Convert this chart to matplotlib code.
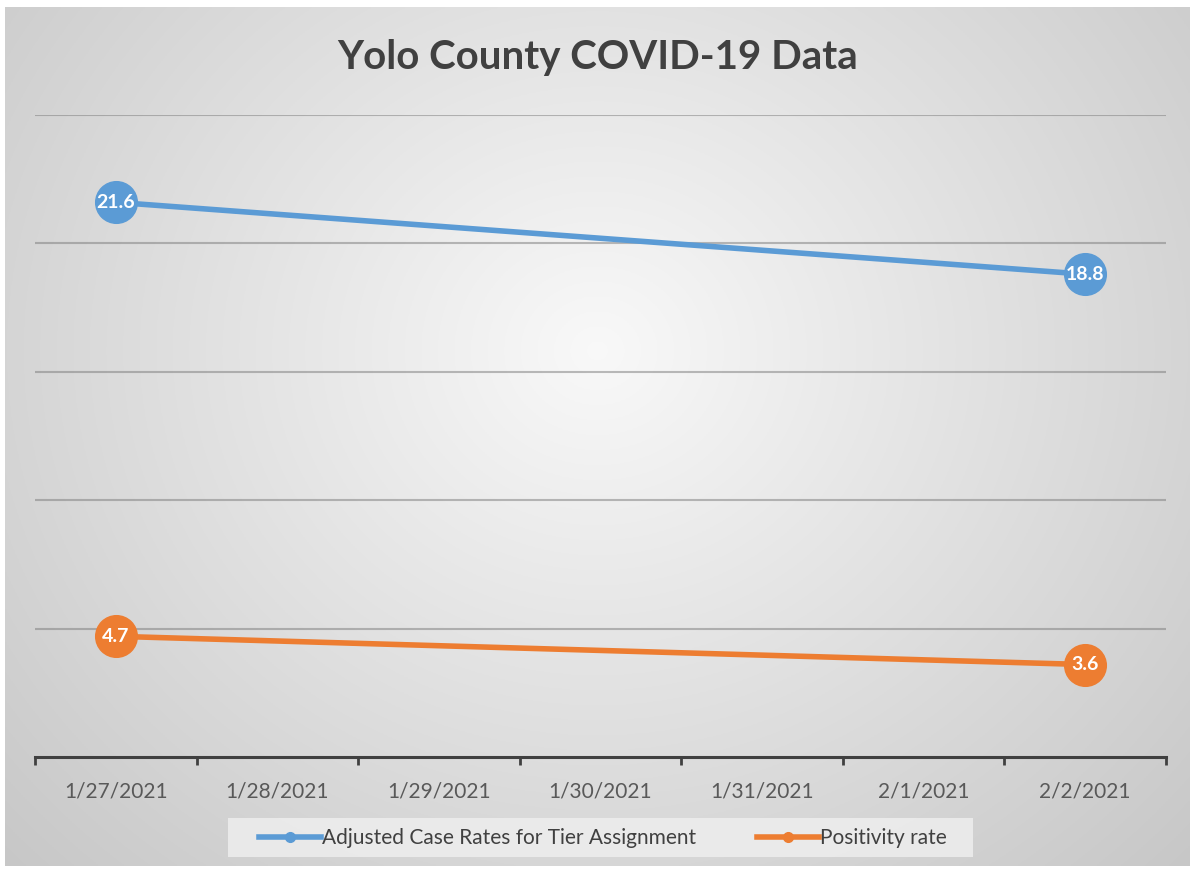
import matplotlib
matplotlib.use('Agg')
import matplotlib.pyplot as plt
import numpy as np
from matplotlib.lines import Line2D
from matplotlib.patches import Rectangle

dates = ['1/27/2021', '1/28/2021', '1/29/2021', '1/30/2021', '1/31/2021', '2/1/2021', '2/2/2021']
case_idx = [0, 6]
case_rates = [21.6, 18.8]
pos_idx = [0, 6]
pos_rates = [4.7, 3.6]
series_names = ['Adjusted Case Rates for Tier Assignment', 'Positivity rate']

blue = '#5B9BD5'
orange = '#ED7D31'

plt.rcParams['font.family'] = ['Lato', 'DejaVu Sans']

fig = plt.figure(figsize=(11.95, 8.69), dpi=100)
fig.patch.set_facecolor('white')

# radial gradient background
bg = fig.add_axes([5/1195, 3/869, 1185/1195, 859/869])
yy, xx = np.mgrid[0:1:400j, 0:1:600j]
r = np.sqrt(((xx - 0.5) * 1.0)**2 + ((yy - 0.6) * 0.8)**2)
shade = np.clip(0.975 - 0.28 * r, 0.78, 0.975)
bg.imshow(np.dstack([shade]*3), extent=[0, 1, 0, 1], origin='lower', aspect='auto')
bg.axis('off')

ax = fig.add_axes([35/1195, 1-757/869, 1131/1195, (757-115)/869])
ax.patch.set_alpha(0)

for y in [5, 10, 15, 20, 25]:
    ax.axhline(y, color='#7a7a7a', alpha=0.5, lw=1.5, zorder=1)

ax.plot(case_idx, case_rates, color=blue, lw=4, marker='o', ms=30,
        label=series_names[0], zorder=3)
ax.plot(pos_idx, pos_rates, color=orange, lw=4, marker='o', ms=30,
        label=series_names[1], zorder=3)

for xs, ys in [(case_idx, case_rates), (pos_idx, pos_rates)]:
    for x, y in zip(xs, ys):
        ax.text(x, y, f'{y}', color='white', fontsize=14, fontweight='bold',
                ha='center', va='center', zorder=4)

ax.set_xlim(-0.5, 6.5)
ax.set_ylim(0, 25)
ax.set_xticks(range(len(dates)))
ax.set_xticklabels(dates, fontsize=15, color='#595959')
ax.set_xticks(np.arange(-0.5, 7, 1), minor=True)
ax.tick_params(axis='x', which='major', length=0, pad=18)
ax.tick_params(axis='x', which='minor', length=6, width=2, color='#404040')
ax.set_yticks([])
for s in ['top', 'right', 'left']:
    ax.spines[s].set_visible(False)
ax.spines['bottom'].set_color('#404040')
ax.spines['bottom'].set_linewidth(2.2)

fig.text(0.5, 1-58/869, 'Yolo County COVID-19 Data', ha='center', va='center',
         fontsize=29, fontweight='bold', color='#404040')

# legend box
fig.patches.append(Rectangle((228/1195, 1-857/869), (973-228)/1195, 39/869,
                             transform=fig.transFigure, facecolor='#eeeeee',
                             edgecolor='none', alpha=0.85, zorder=1))
h2 = [Line2D([0], [0], color=blue, lw=4, marker='o', ms=7),
      Line2D([0], [0], color=orange, lw=4, marker='o', ms=7)]
leg = fig.legend(h2, series_names, loc='center', bbox_to_anchor=(603/1195, 1-838/869),
                 ncol=2, frameon=False, fontsize=15, handlelength=3.0,
                 handletextpad=0.05, columnspacing=2.9)
for t in leg.get_texts():
    t.set_color('#404040')

fig.savefig('out.png', dpi=100)
